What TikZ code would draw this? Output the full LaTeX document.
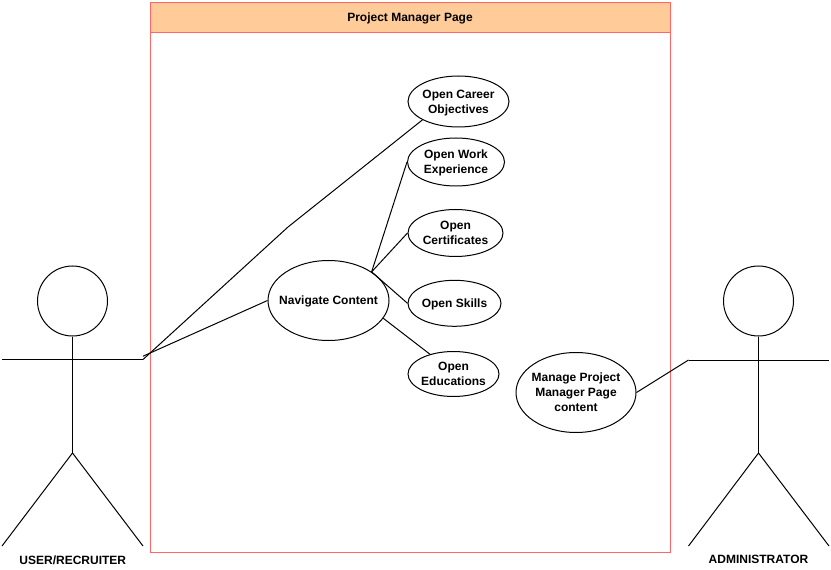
\documentclass[tikz,border=0pt]{standalone}
\usepackage{fontspec}
\setmainfont{Liberation Sans}
\usetikzlibrary{shapes.geometric}
\definecolor{lane}{HTML}{FF6666}
\definecolor{lanehead}{HTML}{FFCC99}
\tikzset{
  x=0.75pt,y=-0.75pt,
  ink/.style={line width=0.75pt,draw=black},
  lanebox/.style={line width=0.75pt,draw=lane},
  usecase/.style={ellipse,ink,fill=white,inner sep=-20pt,font=\bfseries\fontsize{9pt}{11.25pt}\selectfont},
  txt/.style={inner sep=0pt,align=center,font=\bfseries\fontsize{9pt}{11.25pt}\selectfont},
  head/.style={circle,ink,inner sep=0pt,minimum size=52.5pt},
}
\newcommand{\uc}[6]{\node[usecase,minimum width=#4*1.5pt,minimum height=#5*1.5pt] (#1) at (#2,#3) {\raisebox{0pt}[\dimexpr\height+2pt\relax][\depth]{\begin{tabular}{@{}c@{}}#6\end{tabular}}};}
\begin{document}
\begin{tikzpicture}
\useasboundingbox (0,0) rectangle (831,570);
% system boundary
\fill[white] (150.5,2.5) rectangle (670.5,552.5);
\filldraw[lanebox,fill=lanehead] (150.5,2.5) rectangle (670.5,32.5);
\draw[lanebox] (150.5,32.5) rectangle (670.5,552.5);
\node[txt] (lanetitle) at (410,18.3) {Project Manager Page};
% actors
\node[head] (uhead) at (72.5,301) {};
\coordinate (uhip) at (72.5,453);
\coordinate (ularm) at (2,359.5);
\coordinate (urarm) at (143,359.5);
\coordinate (urarmb) at (143,356.2);
\coordinate (ulfoot) at (2,546);
\coordinate (urfoot) at (143,546);
\draw[ink] (uhead.south) -- (uhip);
\draw[ink] (ularm) -- (urarm);
\draw[ink] (ulfoot) -- (uhip) -- (urfoot);
\node[txt] (ulabel) at (72.8,559.8) {USER/RECRUITER};
\node[head] (ahead) at (758.5,301) {};
\coordinate (ahip) at (758.5,453);
\coordinate (alarm) at (688.5,360);
\coordinate (ararm) at (829,360);
\coordinate (alfoot) at (688.5,546);
\coordinate (arfoot) at (829,546);
\draw[ink] (ahead.south) -- (ahip);
\draw[ink] (alarm) -- (ararm);
\draw[ink] (alfoot) -- (ahip) -- (arfoot);
\node[txt] (alabel) at (758.5,559.8) {ADMINISTRATOR};
% use cases
\uc{career}{458.5}{101.5}{50.5}{25.5}{Open Career\\Objectives}
\uc{work}{456}{162}{48.5}{24}{Open Work\\Experience}
\uc{cert}{455.5}{233}{47.5}{23.5}{Open\\Certificates}
\uc{skills}{454.5}{303.3}{46.5}{23}{Open Skills}
\uc{edu}{453.5}{374}{45.5}{22.5}{Open\\Educations}
\uc{nav}{328.5}{300.5}{60.5}{40}{Navigate Content}
\uc{manage}{576}{392.5}{60}{40}{Manage Project\\Manager Page\\content}
% connectors
\coordinate (bend) at (288,227);
\draw[ink] (urarm) -- (bend) -- (career.south west);
\draw[ink] (urarmb) -- (nav.west);
\draw[ink] (nav.north east) -- (work.west);
\draw[ink] (nav.north east) -- (cert.west);
\draw[ink] (nav.north east) -- (skills.west);
\draw[ink] (nav.-18) -- (edu.140);
\draw[ink] (alarm) -- (manage.east);
\end{tikzpicture}
\end{document}
